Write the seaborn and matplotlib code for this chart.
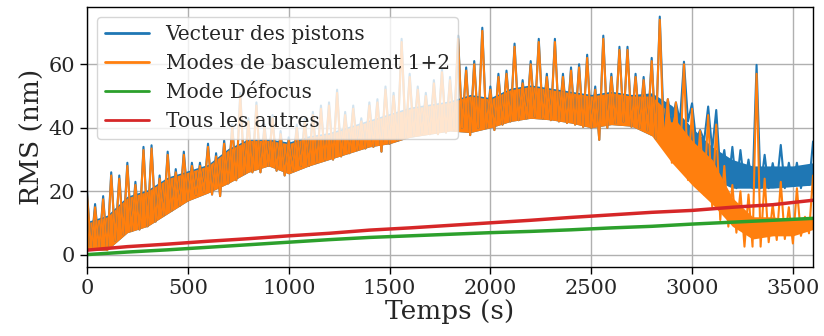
import numpy as np
import pandas as pd
import matplotlib
matplotlib.use('Agg')
import matplotlib.pyplot as plt
import seaborn as sns

# Time axis (s): one sample every 20 s, peaks on even steps, troughs on odd steps
temps = list(range(0, 3601, 20))

# Modes de basculement 1+2 (nm)
basculement = [
    19, 2, 15, 2, 17.5, 1.5, 25, 4.5, 24, 6.5,
    28, 7.5, 22, 8, 33, 9, 33.5, 10.5, 24, 12.5,
    31.5, 14, 26, 15.5, 31.5, 17, 28, 19, 28, 20,
    34, 19, 31, 18.5, 35, 22.5, 40, 23.5, 50, 25.5,
    42, 26, 47, 26, 40, 28, 43, 26.5, 38, 25,
    36, 26.5, 40, 28, 42, 28, 44, 29, 46, 30,
    47, 30, 51, 31, 44, 32, 46, 33, 42, 33.5,
    47, 34, 48, 32.5, 52, 35, 50, 36, 67, 37,
    56, 37.5, 52, 38, 50, 38, 54, 38, 57.5, 38.5,
    55, 39.5, 68, 40, 58, 37.7, 60, 40, 70.5, 40,
    52, 39.3, 56, 41, 57, 42, 65.5, 42.4, 54, 43,
    60, 43.5, 67, 43, 56, 42.4, 67, 42, 56, 41.5,
    58, 41, 59, 40.3, 62, 40, 52, 36.2, 68, 40,
    56, 41.5, 64.5, 42, 64.5, 40.3, 56, 40, 55, 39.2,
    61, 36.6, 74, 34.5, 49, 29, 48, 27, 60, 23.6,
    46, 21.5, 39, 19, 44, 15.2, 41, 11, 28, 8.9,
    22, 7, 20, 2.6, 19, 2.6, 57, 2.6, 24, 4,
    16, 4.7, 23, 5, 15, 3.6, 21, 6, 12, 6.8,
    25,
]

# Vecteur des pistons (nm)
pistons = [
    20, 2, 16, 2, 18.5, 1.5, 26, 4.5, 25, 6.5,
    29, 7.5, 23, 8, 34, 9, 34.5, 10.5, 25, 12.5,
    32.5, 14, 27, 15.5, 32.5, 17, 29, 19, 29, 20,
    35, 19, 32, 18.5, 36, 22.5, 41, 23.5, 51, 25.5,
    43, 26, 48, 26, 41, 28, 44, 26.5, 39, 25,
    37, 26.5, 41, 28, 43, 28, 45, 29, 47, 30,
    48, 30, 52, 31, 45, 32, 47, 33, 43, 33.5,
    48, 34, 49, 32.5, 53, 35, 51, 36, 68, 37,
    57, 37.5, 53, 38, 51, 38, 55, 38, 58.5, 38.5,
    56, 39.5, 69, 40, 59, 37.7, 61, 40, 71.5, 40,
    53, 39.3, 57, 41, 58, 42, 66.5, 42.4, 55, 43,
    61, 43.5, 68, 43, 57, 42.4, 68, 42, 57, 41.5,
    59, 41, 60, 40.3, 63, 40, 53, 36.2, 69, 40,
    57, 41.5, 65.5, 42, 65.5, 40.3, 57, 40, 56, 39.2,
    62, 36.6, 75, 40, 49, 42, 48, 42, 60.8, 42,
    47.7, 36, 39.3, 36, 46.7, 33, 45.6, 26, 33, 22,
    34, 21, 33, 22, 30, 21, 59.8, 21, 31.5, 21,
    28.9, 22, 34.6, 21, 29, 22, 29, 21, 26.8, 22,
    35.7,
]

# Dense core of each noisy signal (nm), every 100 s: lower and upper edge
temps_coeur = list(range(0, 3601, 100))
basc_bas = [1.5, 1.5, 7, 9, 13, 17, 19.5, 22.5, 26, 28, 25.5, 28, 30, 32, 34, 35,
            37, 38, 39, 38.5, 40, 42, 43, 42.5, 41.5, 40, 41, 40.5, 37.5, 29,
            22, 16, 9, 5, 6, 6, 8]
basc_haut = [10, 12, 18, 20, 24, 26, 28, 33, 36, 36, 35, 37, 38, 40, 42, 44,
             46, 47, 48, 50, 49, 52, 53, 52, 51, 50, 51, 50, 50, 44,
             36, 30, 18, 12, 12, 11, 12]
pist_bas = [1.5, 1.5, 7, 9, 13, 17, 19.5, 22.5, 26, 28, 25.5, 28, 30, 32, 34, 35,
            37, 38, 39, 38.5, 40, 42, 43, 42.5, 41.5, 40, 41, 40.5, 37.5, 36,
            30, 24, 21, 21, 21, 21.5, 22]
pist_haut = [10.5, 12.5, 18.5, 20.5, 24.5, 26.5, 28.5, 33.5, 36.5, 36.5, 35.5,
             37.5, 38.5, 40.5, 42.5, 44.5, 46.5, 47.5, 48.5, 50.5, 49.5, 52.5,
             53.5, 52.5, 51.5, 50.5, 51.5, 50.5, 51, 47,
             40, 34, 30, 28, 28, 28, 29]

# Slowly growing terms (nm), every 200 s
temps_lent = list(range(0, 3601, 200))
defocus = [0.1, 0.9, 1.6, 2.4, 3.2, 4.0, 4.8, 5.5, 6.0, 6.5, 7.0,
           7.4, 7.9, 8.5, 9.0, 9.7, 10.3, 10.9, 11.5]
autres = [1.5, 2.6, 3.4, 4.3, 5.1, 6.0, 6.8, 7.8, 8.5, 9.3, 10.1,
          10.9, 11.8, 12.6, 13.4, 14.0, 15.0, 15.8, 17.2]

df_fast = pd.DataFrame({'temps': temps, 'pistons': pistons, 'basculement': basculement})
df_slow = pd.DataFrame({'temps': temps_lent, 'defocus': defocus, 'autres': autres})

sns.set_theme(style='ticks')
plt.rcParams['font.family'] = ['DejaVu Serif']
plt.rcParams['mathtext.fontset'] = 'dejavuserif'

fig, ax = plt.subplots(figsize=(8.24, 3.36), dpi=100)
fig.subplots_adjust(left=0.1056, right=0.9867, bottom=0.2054, top=0.979)

ax.fill_between(temps_coeur, pist_bas, pist_haut, color='#1f77b4', lw=0)
sns.lineplot(data=df_fast, x='temps', y='pistons', ax=ax, color='#1f77b4',
             lw=1.5, estimator=None, sort=False, label='Vecteur des pistons')
ax.fill_between(temps_coeur, basc_bas, basc_haut, color='#ff7f0e', lw=0)
sns.lineplot(data=df_fast, x='temps', y='basculement', ax=ax, color='#ff7f0e',
             lw=1.5, estimator=None, sort=False, label='Modes de basculement 1+2')
sns.lineplot(data=df_slow, x='temps', y='defocus', ax=ax, color='#2ca02c',
             lw=2.5, estimator=None, sort=False, label='Mode Défocus')
sns.lineplot(data=df_slow, x='temps', y='autres', ax=ax, color='#d62728',
             lw=2.5, estimator=None, sort=False, label='Tous les autres')

ax.set_xlim(0, 3600)
ax.set_ylim(-3.8, 78)
ax.set_xticks([0, 500, 1000, 1500, 2000, 2500, 3000, 3500])
ax.set_yticks([0, 20, 40, 60])
ax.grid(True, color='#b0b0b0', lw=1)
ax.set_axisbelow(True)
for s in ax.spines.values():
    s.set_color('black')
    s.set_linewidth(1)
ax.tick_params(axis='both', labelsize=15, length=5, width=1, color='black',
               direction='out')
ax.set_xlabel('Temps (s)', fontsize=19, labelpad=1)
ax.set_ylabel('RMS (nm)', fontsize=19, labelpad=3)

leg = ax.legend(loc='upper left', fontsize=14.5, framealpha=0.8,
                borderaxespad=0.5, handlelength=2.2)
for line in leg.get_lines():
    line.set_linewidth(2)

fig.savefig('out.png', dpi=100)
